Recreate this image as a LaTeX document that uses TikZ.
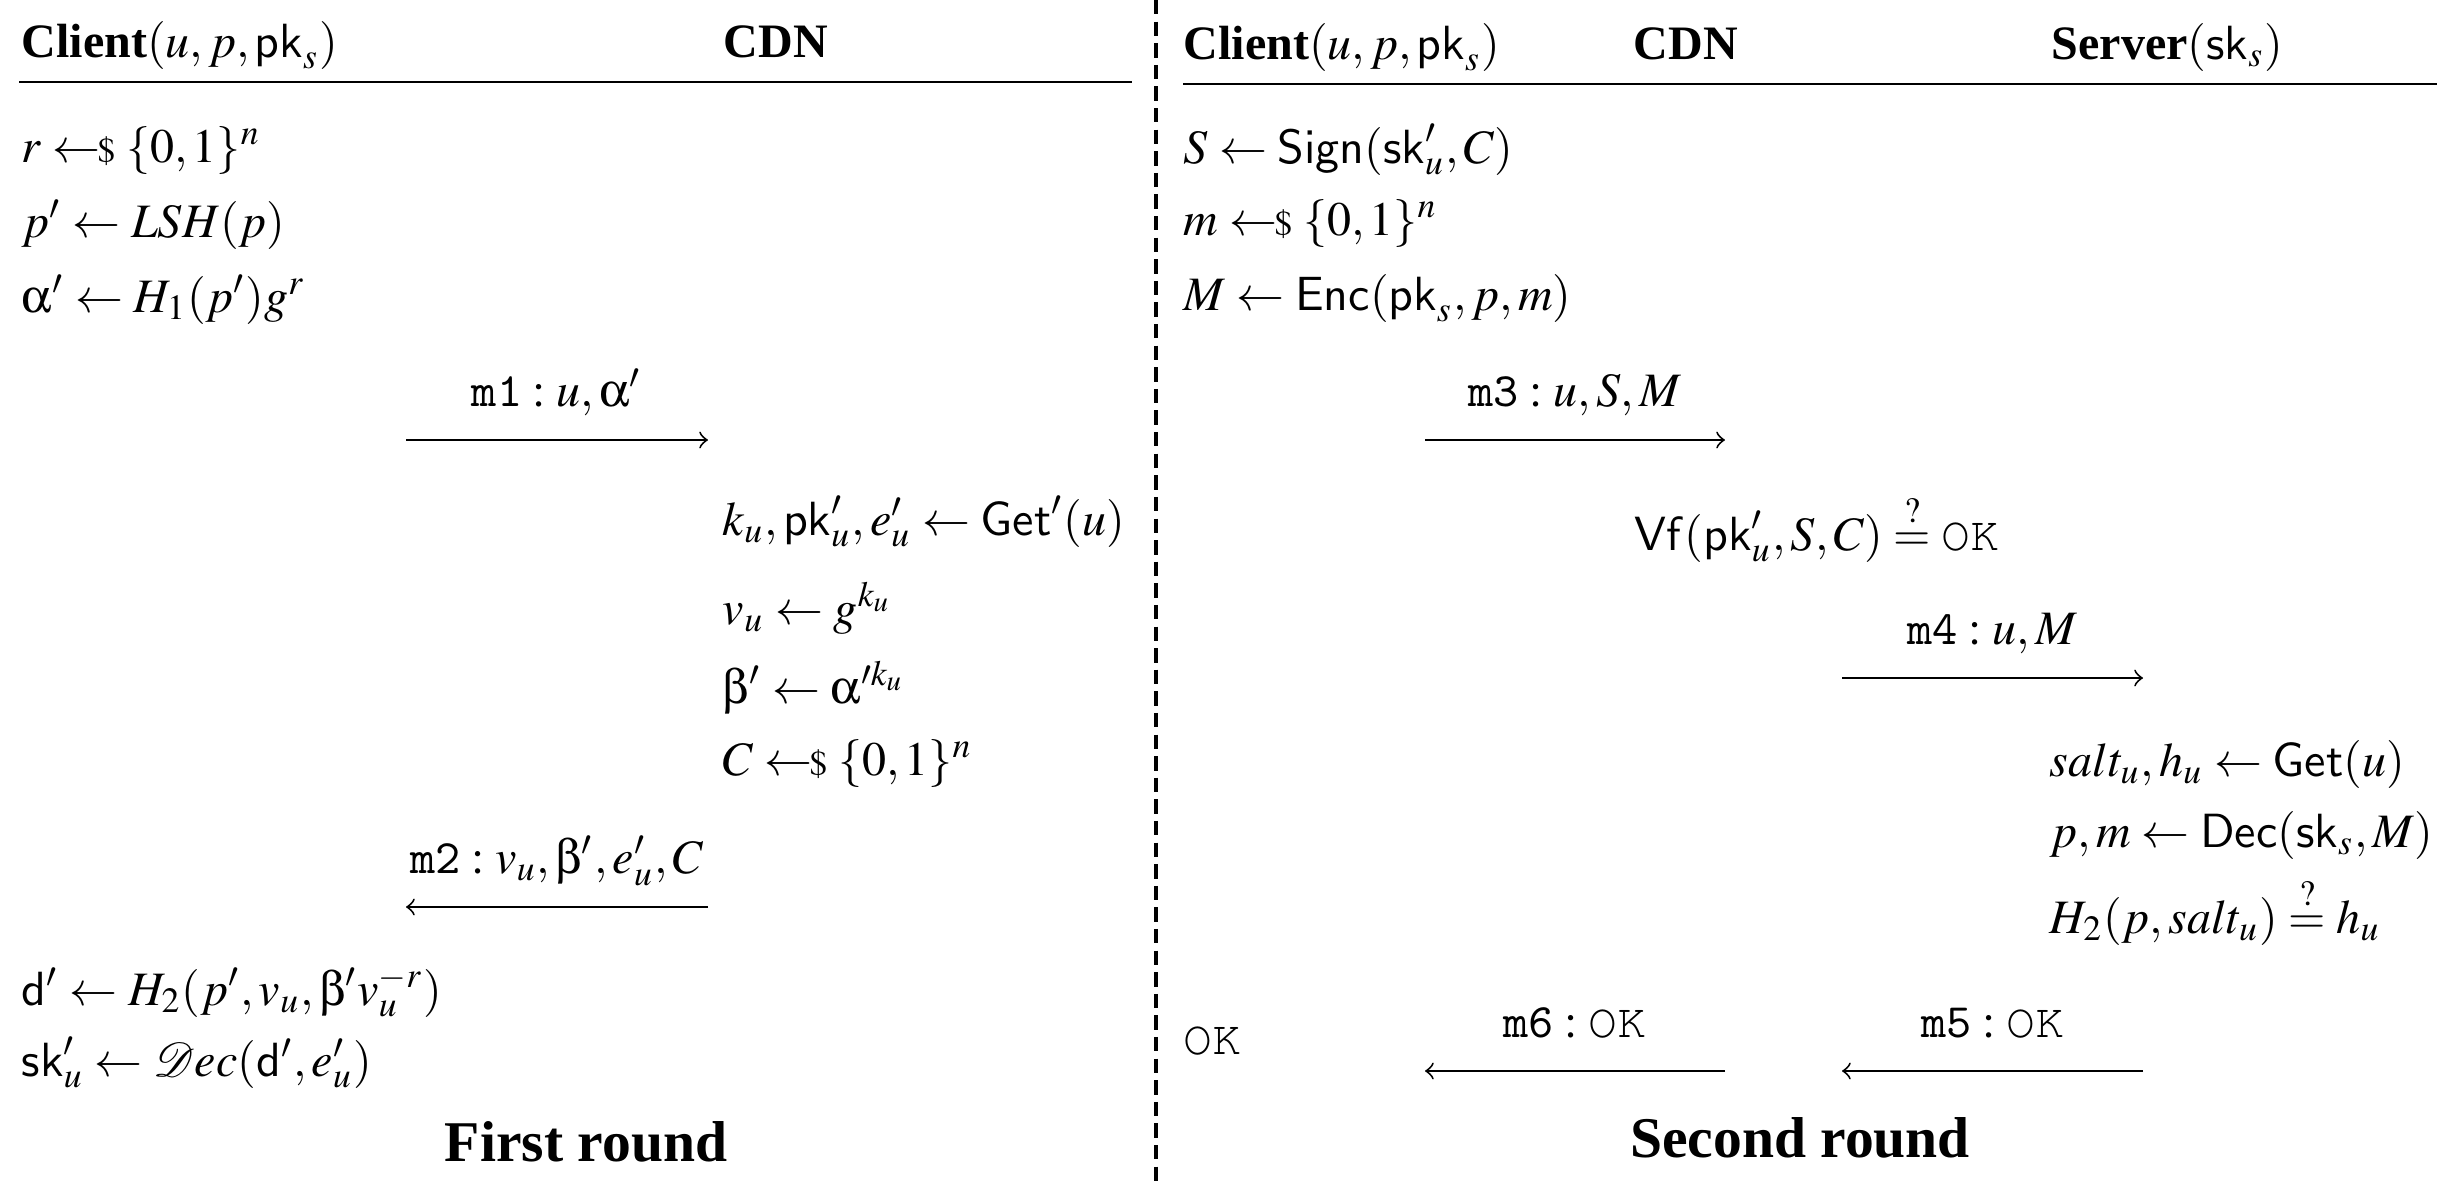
\documentclass[tikz,border=0pt]{standalone}
\usepackage{amsmath,amssymb}
\usepackage{mathptmx}
\usepackage[Symbol]{upgreek}
\usepackage{fontspec}
\setmainfont{Liberation Serif}
\setsansfont{Liberation Sans}[Scale=0.9]
\usepackage{tikz}
\usetikzlibrary{arrows,positioning}

\newcommand{\smpl}{\mathrel{\leftarrow\mkern-5mu{\scriptstyle\$}}}
\newcommand{\okmsg}{\text{\fontencoding{OT1}\fontfamily{pcr}\selectfont OK}}

\begin{document}
\begin{tikzpicture}[x=0.2083pt, y=-0.2083pt,
  stmt/.style={anchor=base west, inner sep=0pt},
  party/.style={anchor=base west, inner sep=0pt, font=\bfseries},
  msg/.style={anchor=base, yshift=7pt, inner sep=0pt},
  caption/.style={anchor=base, inner sep=0pt, font=\large\bfseries}]
 \useasboundingbox (0,0) rectangle (2437,1186);

 % first round
 \node[party] (cl1) at (21,57) {Client\mdseries$(u, p, \mathsf{pk}_s)$};
 \node[party] (cdn1) at (723,57) {CDN};
 \coordinate (rl1) at (19,82);
 \coordinate (rr1) at (1132,82);
 \draw (rl1) -- (rr1);

 \node[stmt] (c1) at (21,162) {$r \smpl \{0,1\}^n$};
 \node[stmt] (c2) at (21,237) {$p' \leftarrow LSH(p)$};
 \node[stmt] (c3) at (21,312) {$\upalpha' \leftarrow H_1(p')g^r$};

 \coordinate (m1a) at (406,440);
 \coordinate (m1b) at (708,440);
 \node[stmt] (d1) at (722,535) {$k_u, \mathsf{pk}'_u, e'_u \leftarrow \mathsf{Get}'(u)$};
 \node[stmt] (d2) at (722,624) {$v_u \leftarrow g^{k_u}$};
 \node[stmt] (d3) at (722,703) {$\upbeta' \leftarrow \upalpha'^{k_u}$};
 \node[stmt] (d4) at (722,775) {$C \smpl \{0,1\}^n$};
 \coordinate (m2a) at (708,907);
 \coordinate (m2b) at (406,907);

 \node[stmt] (c4) at (21,1005) {$\mathsf{d}' \leftarrow H_2(p', v_u, \upbeta' v_u^{-r})$};
 \node[stmt] (c5) at (21,1076) {$\mathsf{sk}'_u \leftarrow \mathcal{D}ec(\mathsf{d}', e'_u)$};
 \node[caption] (r1) at (586,1161) {First round};

 \path[->]
  (m1a) edge node[msg] {$\texttt{m1} : u, \upalpha'$} (m1b)
  (m2a) edge node[msg] {$\texttt{m2} : v_u, \upbeta', e'_u, C$} (m2b);

 % divider
 \coordinate (dvt) at (1156,0);
 \coordinate (dvb) at (1156,1186);
 \draw[line width=0.8pt, dash pattern=on 3pt off 1.5pt] (dvt) -- (dvb);

 % second round
 \node[party] (cl2) at (1183,59) {Client\mdseries$(u, p, \mathsf{pk}_s)$};
 \node[party] (cdn2) at (1633,59) {CDN};
 \node[party] (srv) at (2051,59) {Server\mdseries$(\mathsf{sk}_s)$};
 \coordinate (rl2) at (1183,84);
 \coordinate (rr2) at (2437,84);
 \draw (rl2) -- (rr2);

 \node[stmt] (e1) at (1183,163) {$S \leftarrow \mathsf{Sign}(\mathsf{sk}'_u,C)$};
 \node[stmt] (e2) at (1183,235) {$m \smpl \{0,1\}^n$};
 \node[stmt] (e3) at (1183,310) {$M \leftarrow \mathsf{Enc}(\mathsf{pk}_s,p,m)$};
 \coordinate (m3a) at (1425,440);
 \coordinate (m3b) at (1725,440);

 \node[stmt] (f1) at (1634,550) {$\mathsf{Vf}(\mathsf{pk}'_u,S,C) \stackrel{?}{=} \okmsg$};
 \coordinate (m4a) at (1842,678);
 \coordinate (m4b) at (2143,678);

 \node[stmt] (g1) at (2049,776) {$salt_u, h_u \leftarrow \mathsf{Get}(u)$};
 \node[stmt] (g2) at (2049,847) {$p,m \leftarrow \mathsf{Dec}(\mathsf{sk}_s,M)$};
 \node[stmt] (g3) at (2049,933) {$H_2(p, salt_u) \stackrel{?}{=} h_u$};
 \coordinate (m5a) at (2143,1071);
 \coordinate (m5b) at (1842,1071);
 \coordinate (m6a) at (1725,1071);
 \coordinate (m6b) at (1425,1071);

 \node[stmt] (e4) at (1183,1054) {$\okmsg$};
 \node[caption] (r2) at (1800,1157) {Second round};

 \path[->]
  (m3a) edge node[msg] {$\texttt{m3} : u, S, M$} (m3b)
  (m4a) edge node[msg] {$\texttt{m4} : u, M$} (m4b)
  (m5a) edge node[msg] {$\texttt{m5} : \okmsg$} (m5b)
  (m6a) edge node[msg] {$\texttt{m6} : \okmsg$} (m6b);
\end{tikzpicture}
\end{document}
